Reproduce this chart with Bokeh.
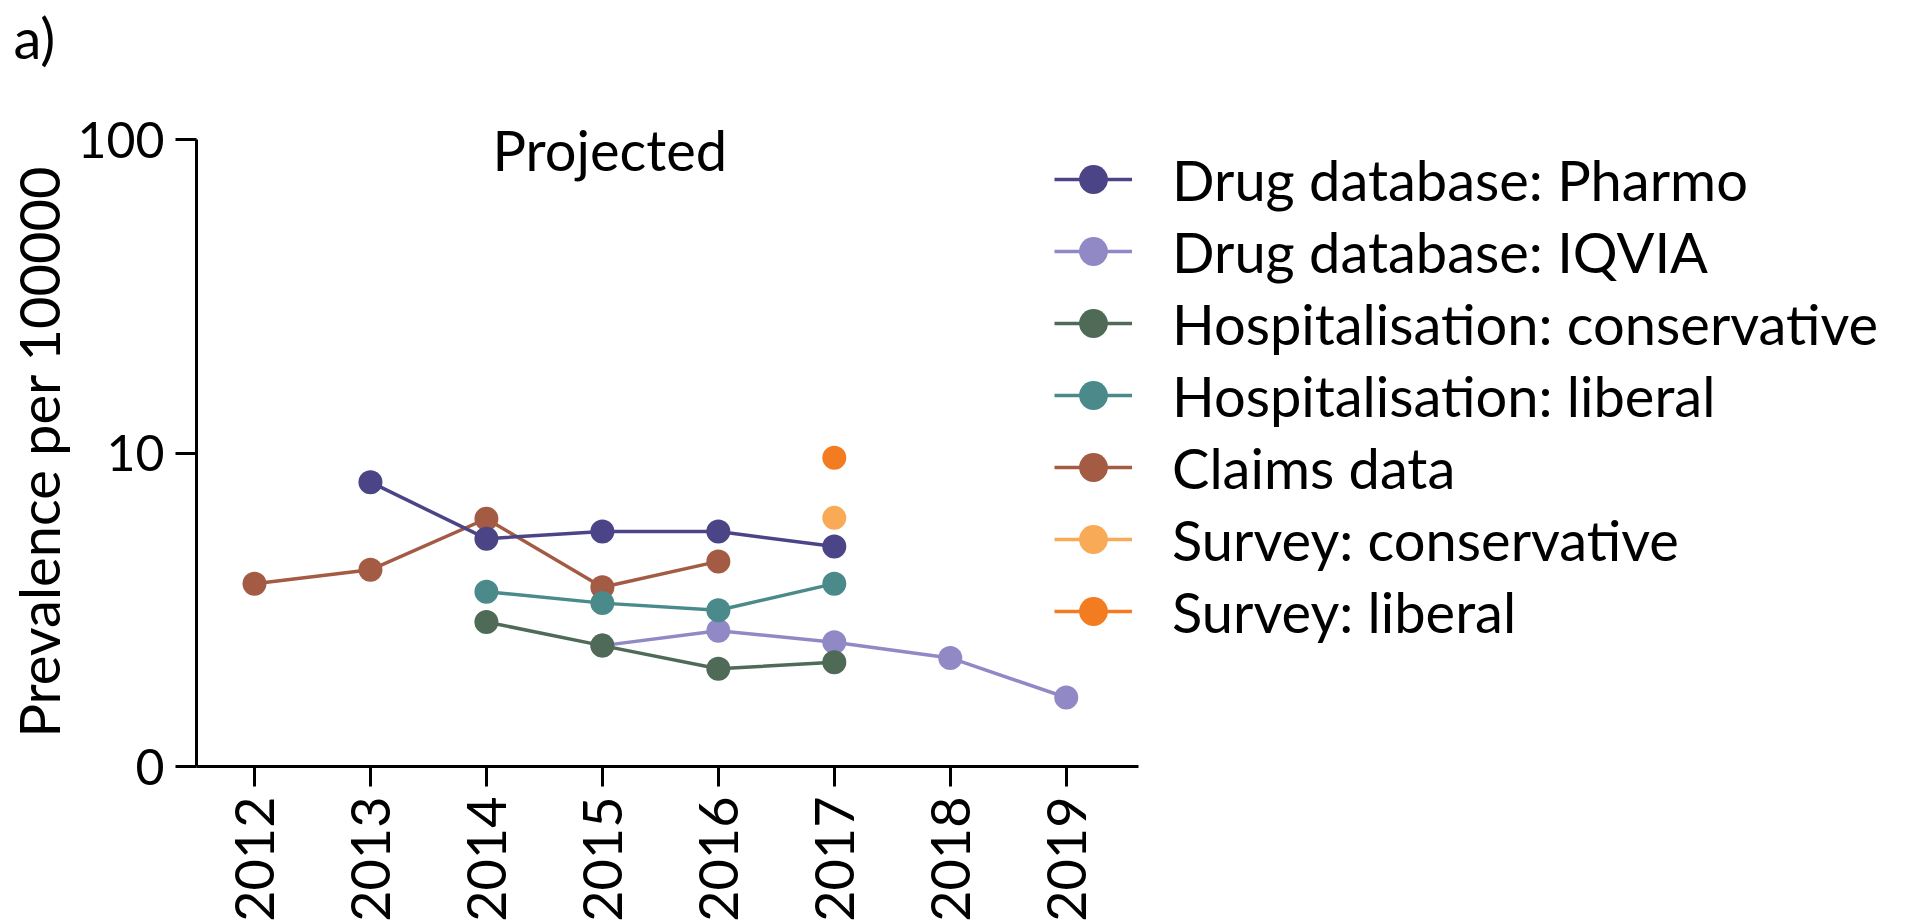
from bokeh.plotting import figure
from bokeh.models import Range1d, FixedTicker, Legend, LegendItem, Label, Title
from bokeh.embed import file_html
from bokeh.resources import INLINE

# ---- data ----
years_pharmo = [2013, 2014, 2015, 2016, 2017]
vals_pharmo = [8.07, 5.33, 5.62, 5.62, 5.03]

years_iqvia = [2015, 2016, 2017, 2018, 2019]
vals_iqvia = [2.43, 2.71, 2.49, 2.22, 1.66]

years_hosp_cons = [2014, 2015, 2016, 2017]
vals_hosp_cons = [2.89, 2.43, 2.05, 2.15]

years_hosp_lib = [2014, 2015, 2016, 2017]
vals_hosp_lib = [3.61, 3.32, 3.15, 3.83]

years_claims = [2012, 2013, 2014, 2015, 2016]
vals_claims = [3.83, 4.24, 6.17, 3.73, 4.51]

years_survey_cons = [2017]
vals_survey_cons = [6.21]

years_survey_lib = [2017]
vals_survey_lib = [9.66]

x_ticks = [2012, 2013, 2014, 2015, 2016, 2017, 2018, 2019]
y_ticks = [1, 10, 100]
y_tick_labels = ["0", "10", "100"]

FONT = "Lato"

X_AXIS_START, X_AXIS_END = 2011.5, 2019.62
X_VIEW_END = 2026.22
Y_AXIS_START, Y_AXIS_END = 1, 100
Y_VIEW_END = 166.0

p = figure(frame_width=1707, frame_height=696, output_backend="svg", toolbar_location=None,
           y_axis_type="log",
           x_range=Range1d(X_AXIS_START, X_VIEW_END), y_range=Range1d(Y_AXIS_START, Y_VIEW_END),
           min_border_left=191, min_border_right=4,
           min_border_top=70, min_border_bottom=146)
p.outline_line_color = None
p.xgrid.visible = False
p.ygrid.visible = False
p.background_fill_color = "white"

for ax in (p.xaxis[0], p.yaxis[0]):
    ax.axis_line_width = 3
    ax.axis_line_color = "black"
    ax.major_tick_line_width = 3
    ax.major_tick_line_color = "black"
    ax.major_tick_in = 0
    ax.minor_tick_line_color = None
    ax.major_label_text_font = FONT
    ax.major_label_text_color = "black"

p.xaxis.bounds = (X_AXIS_START, X_AXIS_END)
p.xaxis.ticker = FixedTicker(ticks=x_ticks)
p.xaxis.major_tick_out = 20
p.xaxis.major_label_orientation = 1.5707963
p.xaxis.major_label_standoff = 10
p.xaxis.major_label_text_font_size = "54px"

p.yaxis.bounds = (Y_AXIS_START, Y_AXIS_END)
p.yaxis.ticker = FixedTicker(ticks=y_ticks)
p.yaxis.major_label_overrides = {t: l for t, l in zip(y_ticks, y_tick_labels)}
p.yaxis.major_tick_out = 21
p.yaxis.major_label_standoff = 11
p.yaxis.major_label_text_font_size = "50px"

# y-axis title, placed along the bounded axis (not the taller frame)
ytitle = Title(text="Prevalence per 100000", align="left", offset=29, standoff=5,
               text_font=FONT, text_font_size="56px", text_font_style="normal",
               text_color="black")
p.add_layout(ytitle, "left")

series = {
    "pharmo": (years_pharmo, vals_pharmo, "#4b4587", "Drug database: Pharmo"),
    "iqvia": (years_iqvia, vals_iqvia, "#9189c5", "Drug database: IQVIA"),
    "hosp_cons": (years_hosp_cons, vals_hosp_cons, "#4f6a57", "Hospitalisation: conservative"),
    "hosp_lib": (years_hosp_lib, vals_hosp_lib, "#4b8a8a", "Hospitalisation: liberal"),
    "claims": (years_claims, vals_claims, "#a35b43", "Claims data"),
    "survey_cons": (years_survey_cons, vals_survey_cons, "#f8aa57", "Survey: conservative"),
    "survey_lib": (years_survey_lib, vals_survey_lib, "#f47c20", "Survey: liberal"),
}

draw_order = ["iqvia", "claims", "pharmo", "hosp_cons", "hosp_lib", "survey_cons", "survey_lib"]
legend_order = ["pharmo", "iqvia", "hosp_cons", "hosp_lib", "claims", "survey_cons", "survey_lib"]

renderers = {}
for key in draw_order:
    xs, ys, col, lab = series[key]
    ln = p.line(xs, ys, line_color=col, line_width=3.5)
    sc = p.scatter(xs, ys, size=24, fill_color=col, line_color=col, line_width=0)
    renderers[key] = [ln, sc]

items = [LegendItem(label=series[k][3], renderers=renderers[k]) for k in legend_order]
legend = Legend(items=items, location=(858, 119),
                label_text_font=FONT, label_text_font_size="56px",
                label_text_color="black",
                label_height=72, glyph_height=72, glyph_width=78,
                label_standoff=40, spacing=0, padding=0, margin=0,
                border_line_color=None, background_fill_alpha=0)
p.add_layout(legend, "center")

p.add_layout(Label(x=296, y=617, x_units="screen", y_units="screen", text="Projected",
                   text_font=FONT, text_font_size="56px", text_baseline="alphabetic",
                   text_color="black"))

p.title.text = "a)"
p.title.align = "left"
p.title.offset = -183
p.title.standoff = 0
p.title.text_font = FONT
p.title.text_font_size = "56px"
p.title.text_font_style = "normal"
p.title.text_color = "black"

open("out.html", "w").write(file_html(p, INLINE))
